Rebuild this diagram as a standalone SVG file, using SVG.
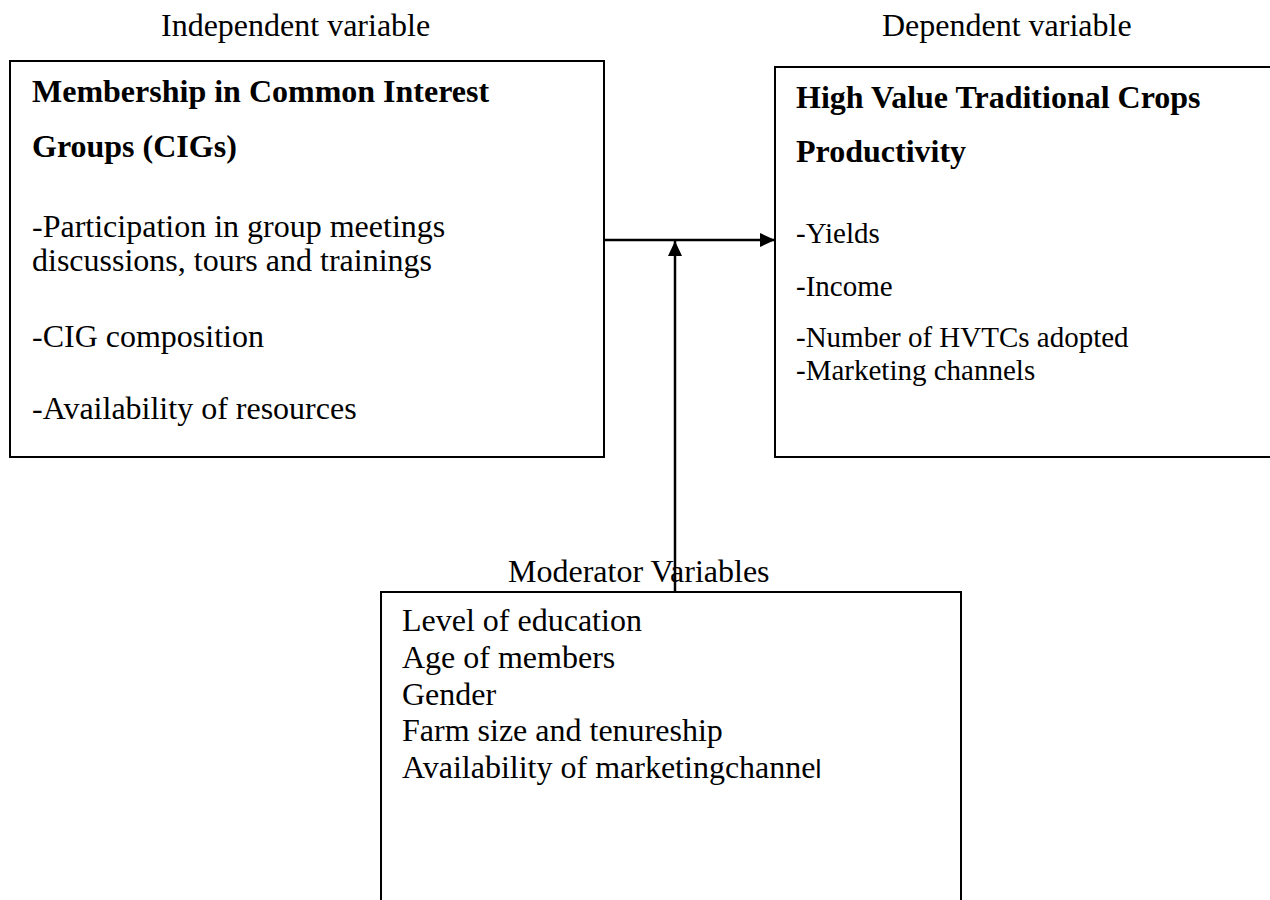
<svg xmlns="http://www.w3.org/2000/svg" width="1270" height="900" viewBox="0 0 1270 900">
<style>
text{font-family:"Liberation Serif","Times New Roman",serif;fill:#000;font-size:32px}
.b{font-weight:bold}
.r{font-size:29px}
.box{fill:#fff;stroke:#000;stroke-width:2}
.c{stroke:#000;stroke-width:2.5;fill:none}
</style>
<defs>
<marker id="ah" viewBox="0 0 15 14" refX="15" refY="7" markerWidth="15" markerHeight="14" markerUnits="userSpaceOnUse" orient="auto"><path d="M0,0 L15,7 L0,14 z" fill="#000"/></marker>
</defs>
<rect width="1270" height="900" fill="#fff"/>
<text x="161" y="36">Independent variable</text>
<text x="882" y="36">Dependent variable</text>
<g id="independent">
<rect class="box" x="10" y="61" width="594" height="396"/>
<text class="b" x="32" y="102">Membership in Common Interest</text>
<text class="b" x="32" y="157">Groups (CIGs)</text>
<text x="32" y="237">-Participation in group meetings</text>
<text x="32" y="271">discussions, tours and trainings</text>
<text x="32" y="347">-CIG composition</text>
<text x="32" y="419">-Availability of resources</text>
</g>
<g id="dependent">
<rect class="box" x="775" y="67" width="510" height="390"/>
<text class="b" x="796" y="108">High Value Traditional Crops</text>
<text class="b" x="796" y="162">Productivity</text>
<text class="r" x="796" y="243">-Yields</text>
<text class="r" x="796" y="296">-Income</text>
<text class="r" x="796" y="347">-Number of HVTCs adopted</text>
<text class="r" x="796" y="380">-Marketing channels</text>
</g>
<g id="moderator">
<text x="508" y="582">Moderator Variables</text>
<rect class="box" x="381" y="592" width="580" height="330"/>
<text x="402" y="631">Level of education</text>
<text x="402" y="668">Age of members</text>
<text x="402" y="705">Gender</text>
<text x="402" y="741">Farm size and tenureship</text>
<text x="402" y="778">Availability of marketingchanne<tspan style="font-family:'Liberation Sans',sans-serif;font-size:26px">l</tspan></text>
</g>
<g id="connectors">
<line class="c" x1="604" y1="240" x2="775" y2="240" marker-end="url(#ah)"/>
<line class="c" x1="675" y1="592" x2="675" y2="241" marker-end="url(#ah)"/>
</g>
</svg>
